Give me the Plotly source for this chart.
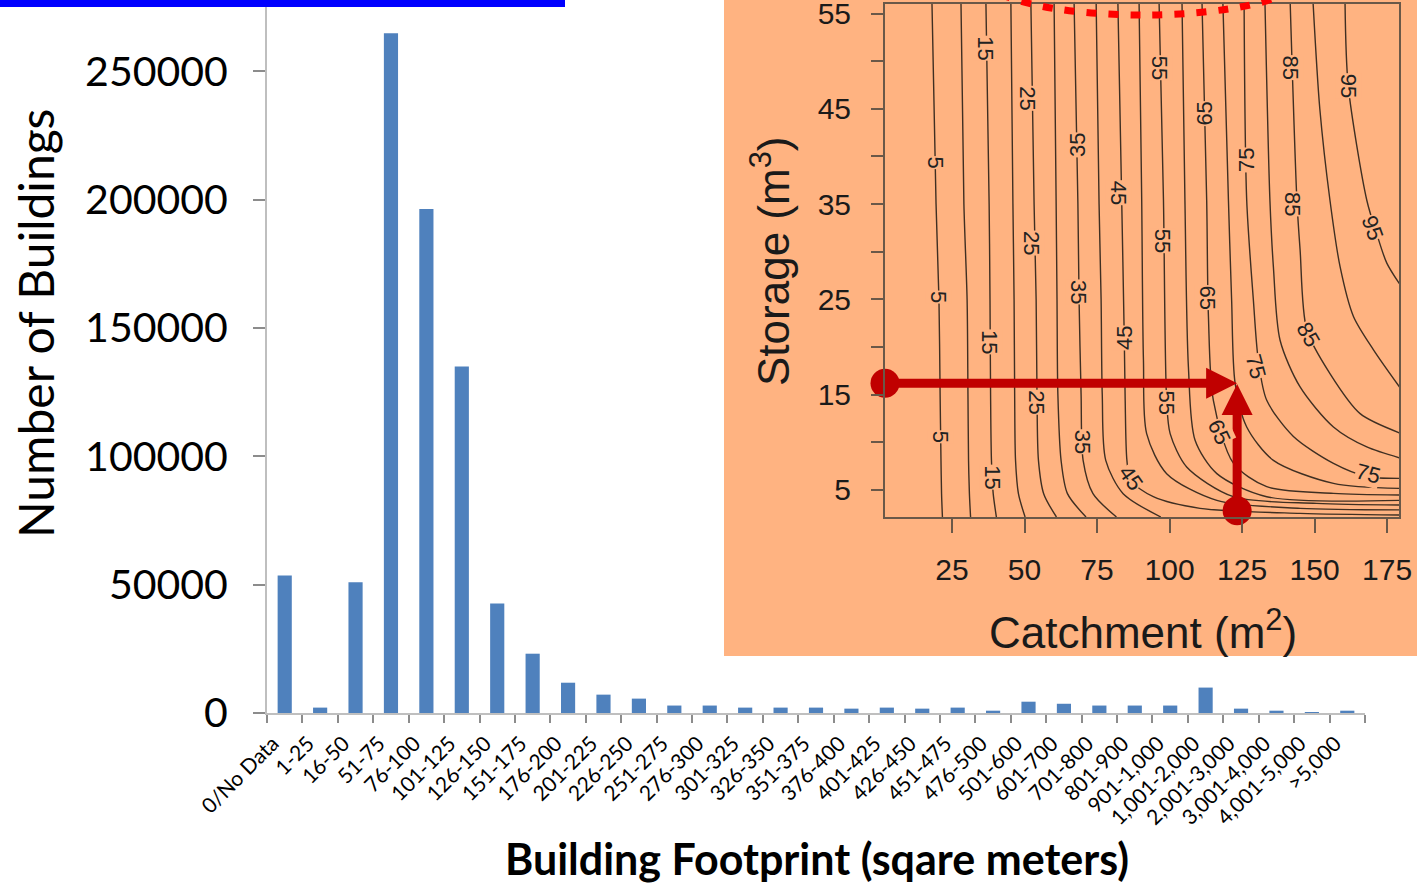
import plotly.graph_objects as go

W, H = 1417, 885


def px(x):
    return x / W


def py(y):
    return 1 - y / H


# ---------------- main bar chart data ----------------
categories = ["0/No Data", "1-25", "16-50", "51-75", "76-100", "101-125", "126-150",
              "151-175", "176-200", "201-225", "226-250", "251-275", "276-300",
              "301-325", "326-350", "351-375", "376-400", "401-425", "426-450",
              "451-475", "476-500", "501-600", "601-700", "701-800", "801-900",
              "901-1,000", "1,001-2,000", "2,001-3,000", "3,001-4,000",
              "4,001-5,000", ">5,000"]
buildings = [53600, 2100, 50900, 264800, 196300, 135000, 42700,
             23100, 11800, 7150, 5600, 2900, 2900,
             2100, 2100, 2100, 1700, 2100, 1700,
             2100, 900, 4400, 3600, 2900, 2900,
             2900, 9900, 1700, 900,
             300, 900]
y_tick_values = [0, 50000, 100000, 150000, 200000, 250000]

# ---------------- inset (reliability contour) data ----------------
inset_x_ticks = [25, 50, 75, 100, 125, 150, 175]
inset_y_ticks = [5, 15, 25, 35, 45, 55]
inset_y_minor_ticks = [10, 20, 30, 40, 50]

# contour lines 5..40 share these storage points
storage_low_lines = [56, 35, 25, 15, 8.1, 4.6, 2.15]
line_05_catchment = [18.1, 19.5, 20.5, 20.9, 21.2, 21.4, 21.7]
line_10_catchment = [28.1, 29.1, 30.2, 30.5, 30.7, 31.0, 31.4]
line_15_catchment = [36.7, 37.8, 38.1, 38.3, 38.6, 39.2, 40.3]
line_20_catchment = [45.3, 46.0, 46.4, 46.6, 46.9, 47.9, 50.2]
line_25_catchment = [52.2, 53.3, 54.0, 54.3, 54.8, 56.6, 61.0]
line_30_catchment = [60.2, 60.9, 61.2, 61.5, 62.6, 64.8, 71.2]
line_35_catchment = [67.1, 68.4, 68.8, 69.5, 70.2, 73.6, 81.7]
line_40_catchment = [74.7, 75.7, 76.4, 76.8, 78.0, 84.0, 97.0]

line_45_storage = [56, 35.4, 20.7, 14.4, 8.1, 6.0, 4.28, 3.06, 2.53, 2.36]
line_45_catchment = [82.2, 83.5, 84.4, 84.7, 85.3, 86.6, 94.4, 110.5, 145, 180]
line_50_storage = [56, 35.4, 18.6, 10.9, 6.7, 3.9, 3.06, 2.9]
line_50_catchment = [89.5, 90.4, 91.0, 92.1, 99.0, 116.3, 145, 180]
line_55_storage = [56, 35.4, 14.4, 10.9, 7.4, 4.28, 3.58, 3.4]
line_55_catchment = [96.4, 97.9, 99.0, 100.2, 105.9, 122.0, 150.7, 180]
line_60_storage = [56, 35.4, 17.9, 10.2, 6.7, 4.28, 3.9]
line_60_catchment = [104.3, 105.3, 106.5, 108.8, 116.3, 133.5, 180]
line_65_storage = [56, 35.4, 23.2, 14.4, 7.8, 5.33, 4.63, 4.45]
line_65_catchment = [111.2, 112.8, 113.4, 115.1, 122.0, 133.5, 156.5, 180]
line_70_storage = [56, 35.4, 24.9, 16.2, 11.6, 8.1, 5.68, 5.15]
line_70_catchment = [118.4, 120.3, 121.4, 122.6, 126.6, 135.8, 156.5, 180]
line_75_storage = [56, 35.4, 24.9, 18.6, 14.4, 10.6, 7.78, 6.4, 6.2]
line_75_catchment = [125.7, 126.6, 128.9, 130.6, 133.5, 142.7, 156.5, 168, 180]
line_80_storage = [56, 35.4, 28.4, 20.7, 15.8, 11.6, 9.5, 8.3]
line_80_catchment = [132.9, 134.6, 135.8, 138.1, 145, 156.5, 168, 180]
line_85_storage = [56, 35.4, 30.2, 21.8, 17.2, 13.0, 10.9]
line_85_catchment = [141.6, 143.9, 145, 147.3, 155.3, 165.7, 180]
line_90_storage = [56, 45, 35.4, 28.4, 23.2, 19.7, 15.5]
line_90_catchment = [149.5, 151.8, 155.3, 158.8, 163.4, 170.3, 180]
line_95_storage = [56, 47.4, 35.4, 31.9, 28.8, 26.3]
line_95_catchment = [160.5, 161.6, 168, 171.4, 174.9, 180]

contour_label_text = ["15", "25", "35", "55", "65", "85", "95", "5", "45", "75", "85",
                      "95", "25", "55", "5", "35", "65", "85", "15", "45", "75", "25",
                      "55", "65", "5", "35", "45", "15", "75"]
contour_label_catchment = [36.6, 51.2, 68.4, 96.4, 111.9, 141.6, 161.6, 19.3, 82.2, 126.6, 142.6,
                           169.8, 52.6, 97.6, 20.3, 68.7, 113.2, 147.8, 38.2, 84.5, 129.6, 54.3,
                           99.0, 117.0, 21.1, 70.0, 86.6, 38.9, 168.4]
contour_label_storage = [51.4, 46.1, 41.2, 49.3, 44.5, 49.3, 47.4, 39.3, 36.2, 39.6, 35.0,
                         32.5, 30.9, 31.2, 25.2, 25.8, 25.2, 21.3, 20.5, 20.9, 17.9, 14.2,
                         14.2, 11.1, 10.6, 10.1, 6.3, 6.3, 6.7]
contour_label_angle = [90, 90, -90, 90, -90, 90, 90, 90, 90, -90, 90,
                       70, 90, 90, 90, 90, 90, 60, 90, -90, 75, 90,
                       90, 65, 90, 90, 55, 90, 15]

# worked example (red arrows): from storage axis across, and from catchment axis up
example_catchment = 123.3
example_storage = 16.2
example_start_catchment = 1.9
example_start_storage = 2.8

# ---------------- styles ----------------
BAR_BLUE = "#4F81BD"
ORANGE = "#FFB381"
BROWN = "#3f2f22"
FRAME = "#6a5848"
DARK_RED = "#C00000"
MAIN_FONT = "Lato"
INSET_FONT = "Liberation Sans"
HEAD_PX = 31                      # arrow head length in pixels
X2_PX_PER_UNIT = 2.9              # inset x scale (px per m2)
Y2_PX_PER_UNIT = 9.53             # inset y scale (px per m3)

fig = go.Figure()

fig.add_trace(go.Bar(
    x=categories, y=buildings, marker=dict(color=BAR_BLUE, line=dict(width=0)),
    width=0.4, xaxis="x", yaxis="y", showlegend=False, hoverinfo="x+y"))

low_lines = [line_05_catchment, line_10_catchment, line_15_catchment, line_20_catchment,
             line_25_catchment, line_30_catchment, line_35_catchment, line_40_catchment]
for cs in low_lines:
    fig.add_trace(go.Scatter(x=cs, y=storage_low_lines, mode="lines",
                             line=dict(color=BROWN, width=1.4, shape="spline", smoothing=0.8),
                             xaxis="x2", yaxis="y2", showlegend=False, hoverinfo="skip"))

high_lines = [(line_45_catchment, line_45_storage), (line_50_catchment, line_50_storage),
              (line_55_catchment, line_55_storage), (line_60_catchment, line_60_storage),
              (line_65_catchment, line_65_storage), (line_70_catchment, line_70_storage),
              (line_75_catchment, line_75_storage), (line_80_catchment, line_80_storage),
              (line_85_catchment, line_85_storage), (line_90_catchment, line_90_storage),
              (line_95_catchment, line_95_storage)]
for cs, ss in high_lines:
    fig.add_trace(go.Scatter(x=cs, y=ss, mode="lines",
                             line=dict(color=BROWN, width=1.4, shape="spline", smoothing=0.8),
                             xaxis="x2", yaxis="y2", showlegend=False, hoverinfo="skip"))

# red arrows: shafts
head_x = HEAD_PX / X2_PX_PER_UNIT
head_y = HEAD_PX / Y2_PX_PER_UNIT
fig.add_trace(go.Scatter(
    x=[example_start_catchment, example_catchment - 0.6 * head_x],
    y=[example_storage, example_storage],
    mode="lines", line=dict(color=DARK_RED, width=9),
    xaxis="x2", yaxis="y2", showlegend=False, hoverinfo="skip", cliponaxis=False))
fig.add_trace(go.Scatter(
    x=[example_catchment, example_catchment],
    y=[example_start_storage, example_storage - 0.6 * head_y],
    mode="lines", line=dict(color=DARK_RED, width=9),
    xaxis="x2", yaxis="y2", showlegend=False, hoverinfo="skip", cliponaxis=False))
# arrow heads (tip at the data point)
fig.add_trace(go.Scatter(
    x=[example_catchment, example_catchment],
    y=[example_storage, example_storage - 0.1],
    mode="markers",
    marker=dict(symbol=["arrow-right", "arrow-up"], size=HEAD_PX, color=DARK_RED,
                line=dict(width=0)),
    xaxis="x2", yaxis="y2", showlegend=False, hoverinfo="skip", cliponaxis=False))
# red dots at the arrow tails
fig.add_trace(go.Scatter(
    x=[example_start_catchment, example_catchment],
    y=[example_storage, example_start_storage],
    mode="markers", marker=dict(color=DARK_RED, size=29),
    cliponaxis=False, xaxis="x2", yaxis="y2", showlegend=False, hoverinfo="skip"))

annotations = []
for t, c, s, a in zip(contour_label_text, contour_label_catchment,
                      contour_label_storage, contour_label_angle):
    annotations.append(dict(
        x=c, y=s, xref="x2", yref="y2", text=t, showarrow=False, textangle=a,
        font=dict(family=INSET_FONT, size=22, color="#222222"),
        bgcolor=ORANGE, borderpad=0))

# titles
annotations += [
    dict(x=px(35), y=py(324), xref="paper", yref="paper", text="Number of Buildings",
         textangle=-90, showarrow=False, xanchor="center", yanchor="middle",
         font=dict(family=MAIN_FONT, size=48, color="black")),
    dict(x=px(817), y=py(858), xref="paper", yref="paper",
         text="<b>Building Footprint (sqare meters)</b>", showarrow=False,
         xanchor="center", yanchor="middle",
         font=dict(family=MAIN_FONT, size=43, color="black")),
    dict(x=px(1143), y=py(629), xref="paper", yref="paper",
         text="Catchment (m<sup>2</sup>)", showarrow=False,
         xanchor="center", yanchor="middle",
         font=dict(family=INSET_FONT, size=44, color="#1a1a1a")),
    dict(x=px(770), y=py(262), xref="paper", yref="paper",
         text="Storage (m<sup>3</sup>)", showarrow=False, textangle=-90,
         xanchor="center", yanchor="middle",
         font=dict(family=INSET_FONT, size=44, color="#1a1a1a")),
]

shapes = [
    # blue strip at top-left
    dict(type="rect", xref="paper", yref="paper", x0=0, x1=px(565), y0=py(7), y1=py(0),
         fillcolor="#0000FF", line=dict(width=0), layer="above"),
    # orange inset panel
    dict(type="rect", xref="paper", yref="paper", x0=px(724), x1=px(1417), y0=py(656), y1=py(0),
         fillcolor=ORANGE, line=dict(width=0), layer="below"),
    # red dotted ellipse at top of inset
    dict(type="circle", xref="paper", yref="paper", x0=px(981), x1=px(1305),
         y0=py(15), y1=py(-65), line=dict(color="#FF0000", width=7, dash="10px,12px"),
         fillcolor="rgba(0,0,0,0)", layer="above"),
]

fig.update_layout(
    width=W, height=H,
    margin=dict(l=0, r=0, t=0, b=0, pad=0, autoexpand=False),
    paper_bgcolor="white",
    plot_bgcolor="rgba(0,0,0,0)",
    showlegend=False,
    xaxis=dict(
        domain=[px(267), px(1365)], anchor="y", type="category", automargin=False,
        range=[-0.5, len(categories) - 0.5],
        tickangle=-45, tickson="boundaries", ticks="outside", ticklen=8,
        tickcolor="#8c8c8c", tickwidth=1.5,
        showline=True, linecolor="#bfbfbf", linewidth=2, showgrid=False, zeroline=False,
        tickfont=dict(family=MAIN_FONT, size=21, color="black"),
        ticklabelshift=-12, ticklabelstandoff=8, ticklabeloverflow="allow",
    ),
    yaxis=dict(
        domain=[py(713), py(7)], anchor="x", range=[0, 275000], automargin=False,
        tickvals=y_tick_values, ticktext=[str(v) for v in y_tick_values],
        ticks="outside", ticklen=12, tickcolor="#8c8c8c", tickwidth=1.5,
        showline=True, linecolor="#bfbfbf", linewidth=2, showgrid=False, zeroline=False,
        tickfont=dict(family=MAIN_FONT, size=41, color="black"),
        ticklabelstandoff=17, ticklabeloverflow="allow",
    ),
    xaxis2=dict(
        domain=[px(885), px(1399)], anchor="y2", range=[1.9, 179.1], automargin=False,
        tickvals=inset_x_ticks, ticks="outside", ticklen=14, tickcolor=FRAME, tickwidth=1.5,
        showline=True, mirror=True, linecolor=FRAME, linewidth=2,
        showgrid=False, zeroline=False,
        tickfont=dict(family=INSET_FONT, size=30, color="#1a1a1a"),
        ticklabelstandoff=11, ticklabeloverflow="allow",
    ),
    yaxis2=dict(
        domain=[py(517), py(4)], anchor="x2", range=[2.15, 56], automargin=False,
        tickvals=inset_y_ticks,
        ticks="outside", ticklen=12, tickcolor=FRAME, tickwidth=1.5,
        minor=dict(tickvals=inset_y_minor_ticks, ticks="outside", ticklen=12,
                   tickcolor=FRAME, tickwidth=1.5, showgrid=False),
        showline=True, mirror=True, linecolor=FRAME, linewidth=2,
        showgrid=False, zeroline=False,
        tickfont=dict(family=INSET_FONT, size=30, color="#1a1a1a"),
        ticklabelstandoff=14, ticklabeloverflow="allow",
    ),
    annotations=annotations,
    shapes=shapes,
)

fig.write_html(
    "out.html",
    config={"displayModeBar": False},
    post_script="document.body.style.margin='0';document.body.style.overflow='hidden';")
